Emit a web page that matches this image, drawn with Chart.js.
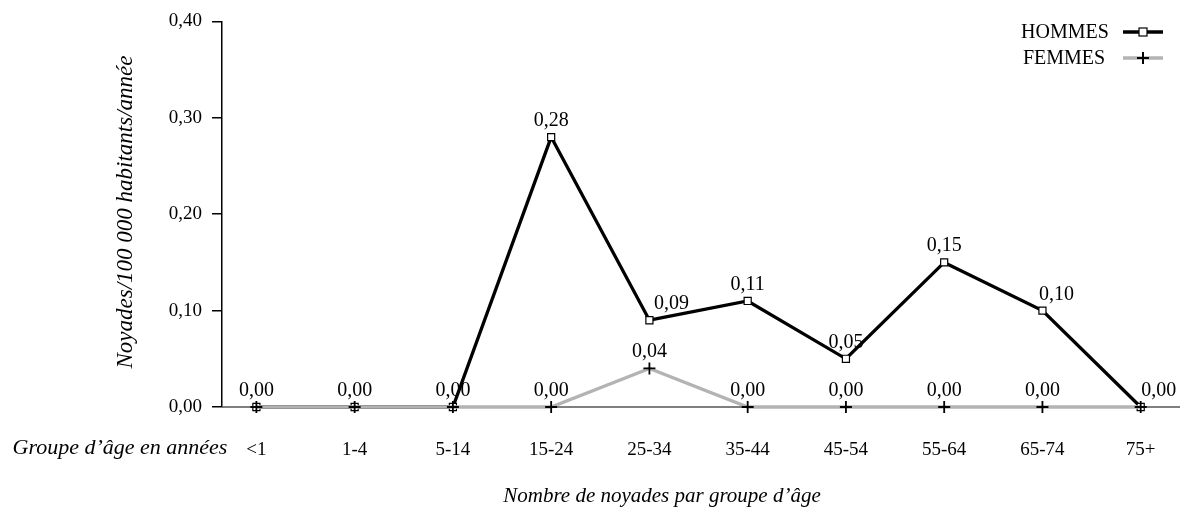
<!DOCTYPE html>
<html lang="fr">
<head>
    <meta charset="UTF-8">
    <title>Noyades par groupe d'âge</title>
    <script src="https://cdn.jsdelivr.net/npm/chart.js@4.4.1/dist/chart.umd.min.js"></script>
    <style>
        html, body { margin: 0; padding: 0; background: #fff; }
        #wrap { width: 1181px; height: 512px; position: relative; }
    </style>
</head>
<body>
<div id="wrap"><canvas id="myChart"></canvas></div>
<script>
    // Données
    const groupes = ['<1', '1-4', '5-14', '15-24', '25-34', '35-44', '45-54', '55-64', '65-74', '75+'];
    const hommes = [0, 0, 0, 0.28, 0.09, 0.11, 0.05, 0.15, 0.10, 0];
    const femmes = [0, 0, 0, 0, 0.04, 0, 0, 0, 0, 0];
    const yTicks = [0, 0.1, 0.2, 0.3, 0.4];

    const FONT = '"Liberation Serif", "Times New Roman", serif';
    const GRIS = '#b3b3b3';

    const fmt = v => v.toFixed(2).replace('.', ',');

    // décalage horizontal de certaines étiquettes (style uniquement)
    const labelShift = { 4: 22, 8: 14, 9: 18 };

    const labelsPlugin = {
        id: 'labels',
        afterDatasetsDraw(chart) {
            const ctx = chart.ctx;
            ctx.save();
            ctx.font = '20px ' + FONT;
            ctx.fillStyle = '#000';
            ctx.textAlign = 'center';
            ctx.textBaseline = 'alphabetic';
            const mh = chart.getDatasetMeta(0);
            const mf = chart.getDatasetMeta(1);
            mh.data.forEach((p, i) => {
                const dx = labelShift[i] || 0;
                ctx.fillText(fmt(hommes[i]), p.x + dx, p.y - 11);
            });
            mf.data.forEach((p, i) => {
                if (femmes[i] === hommes[i]) return;
                ctx.fillText(fmt(femmes[i]), p.x, p.y - 11);
            });
            ctx.restore();
        }
    };

    const decorPlugin = {
        id: 'decor',
        afterDraw(chart) {
            const ctx = chart.ctx;
            ctx.save();
            ctx.fillStyle = '#000';
            // titre axe y
            ctx.font = 'italic 23px ' + FONT;
            ctx.textAlign = 'center';
            ctx.textBaseline = 'middle';
            ctx.translate(126, 212);
            ctx.rotate(-Math.PI / 2);
            ctx.fillText('Noyades/100 000 habitants/année', 0, 0);
            ctx.restore();

            ctx.save();
            ctx.fillStyle = '#000';
            ctx.textBaseline = 'middle';
            ctx.textAlign = 'center';
            ctx.font = 'italic 22px ' + FONT;
            ctx.fillText('Groupe d’âge en années', 120, 448);
            ctx.font = 'italic 21px ' + FONT;
            ctx.fillText('Nombre de noyades par groupe d’âge', 662, 496);

            // légende
            ctx.font = '20px ' + FONT;
            ctx.fillText('HOMMES', 1065, 33);
            ctx.fillText('FEMMES', 1064, 59);
            ctx.lineWidth = 3.5;
            ctx.strokeStyle = '#000';
            ctx.beginPath(); ctx.moveTo(1123, 32); ctx.lineTo(1163, 32); ctx.stroke();
            ctx.fillStyle = '#fff';
            ctx.lineWidth = 1.2;
            ctx.fillRect(1139, 28, 8, 8);
            ctx.strokeRect(1139, 28, 8, 8);
            ctx.lineWidth = 3.5;
            ctx.strokeStyle = GRIS;
            ctx.beginPath(); ctx.moveTo(1123, 58); ctx.lineTo(1163, 58); ctx.stroke();
            ctx.strokeStyle = '#000';
            ctx.lineWidth = 2;
            ctx.beginPath();
            ctx.moveTo(1137, 58); ctx.lineTo(1149, 58);
            ctx.moveTo(1143, 52); ctx.lineTo(1143, 64);
            ctx.stroke();
            ctx.restore();
        }
    };

    // ligne de l'axe x (sous les séries)
    const axisLinePlugin = {
        id: 'axisLine',
        beforeDatasetsDraw(chart) {
            const ctx = chart.ctx;
            const a = chart.chartArea;
            const y = chart.scales.y.getPixelForValue(0);
            ctx.save();
            ctx.strokeStyle = '#555';
            ctx.lineWidth = 1.5;
            ctx.beginPath(); ctx.moveTo(a.left, y); ctx.lineTo(a.right, y); ctx.stroke();
            ctx.restore();
        }
    };

    window.onload = function () {
        const ctx = document.getElementById('myChart').getContext('2d');
        new Chart(ctx, {
            type: 'line',
            data: {
                datasets: [{
                    label: 'HOMMES',
                    data: hommes.map((v, i) => ({ x: i, y: v })),
                    borderColor: '#000',
                    borderWidth: 3.3,
                    pointStyle: 'rect',
                    pointRadius: 5,
                    pointBackgroundColor: '#fff',
                    pointBorderColor: '#000',
                    pointBorderWidth: 1.2,
                    tension: 0,
                    clip: false,
                    order: 2
                }, {
                    label: 'FEMMES',
                    data: femmes.map((v, i) => ({ x: i, y: v })),
                    borderColor: GRIS,
                    borderWidth: 3.3,
                    pointStyle: 'cross',
                    pointRadius: 6,
                    pointBackgroundColor: '#000',
                    pointBorderColor: '#000',
                    pointBorderWidth: 1.8,
                    tension: 0,
                    clip: false,
                    order: 1
                }]
            },
            options: {
                responsive: true,
                maintainAspectRatio: false,
                animation: false,
                events: [],
                layout: { autoPadding: false, padding: { top: 19, right: 1, left: 0, bottom: 0 } },
                plugins: { legend: { display: false }, tooltip: { enabled: false } },
                scales: {
                    x: {
                        type: 'linear',
                        min: -0.35,
                        max: 9.4,
                        afterBuildTicks: s => { s.ticks = groupes.map((g, i) => ({ value: i })); },
                        afterFit: s => { s.height = 105; s.paddingLeft = 0; s.paddingRight = 0; },
                        grid: { display: false, drawTicks: false },
                        border: { display: false },
                        ticks: {
                            padding: 32,
                            color: '#000',
                            maxRotation: 0,
                            autoSkip: false,
                            font: { family: FONT, size: 19 },
                            callback: v => groupes[v]
                        }
                    },
                    y: {
                        min: 0,
                        max: 0.4,
                        afterBuildTicks: s => { s.ticks = yTicks.map(v => ({ value: v })); },
                        afterFit: s => { s.width = 222; },
                        grid: { display: true, drawOnChartArea: false, drawTicks: true, tickLength: 10, color: '#000', lineWidth: 1.5 },
                        border: { display: true, color: '#000', width: 1.5 },
                        ticks: {
                            padding: 10,
                            color: '#000',
                            font: { family: FONT, size: 19 },
                            callback: v => fmt(v)
                        }
                    }
                }
            },
            plugins: [axisLinePlugin, labelsPlugin, decorPlugin]
        });
    };
</script>
</body>
</html>
